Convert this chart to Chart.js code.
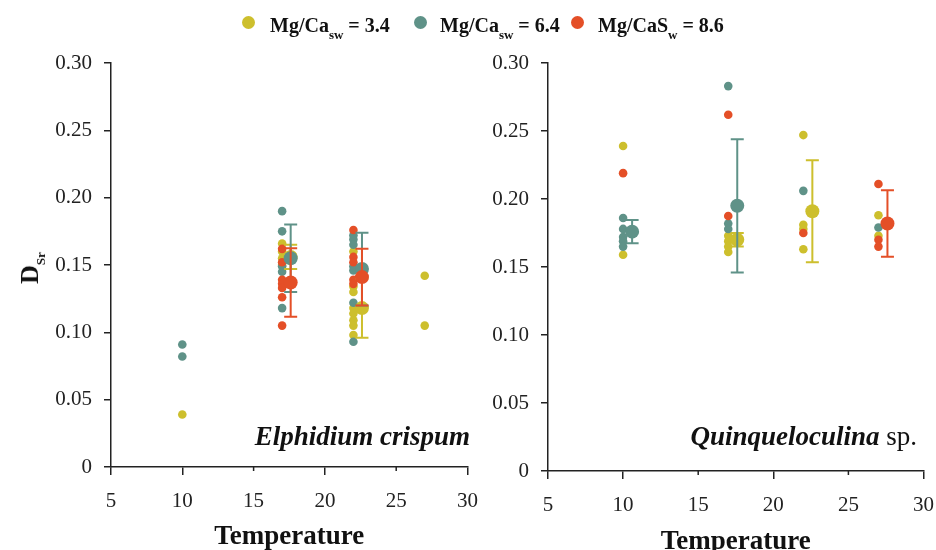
<!DOCTYPE html>
<html><head><meta charset="utf-8">
<script src="https://cdn.jsdelivr.net/npm/chart.js@4.4.1/dist/chart.umd.min.js"></script>
<style>
html,body{margin:0;padding:0;background:#fff;}
#wrap{position:relative;width:936px;height:550px;overflow:hidden;font-family:"Liberation Serif","Times New Roman",serif;color:#111;}
canvas{position:absolute;top:0;}
.leg{position:absolute;top:15px;font-weight:bold;font-size:20px;line-height:20px;white-space:nowrap;}
.dot{position:absolute;width:13px;height:13px;border-radius:50%;}
sub{font-size:13px;vertical-align:-7px;line-height:0;}
.ytitle{position:absolute;left:30px;top:268px;transform:translate(-50%,-50%) rotate(-90deg);font-weight:bold;font-size:26px;white-space:nowrap;}
.ann{position:absolute;font-size:27px;line-height:27px;white-space:nowrap;}
</style></head>
<body>
<div id="wrap">
  <canvas id="c1" width="492" height="550" style="left:0"></canvas>
  <canvas id="c2" width="468" height="550" style="left:480px"></canvas>
  <div id="legend"></div>
  <div class="ytitle">D<sub>Sr</sub></div>
  <div class="ann" style="right:466px;top:423px;"><b><i>Elphidium crispum</i></b></div>
  <div class="ann" style="right:19px;top:423px;"><b><i>Quinqueloculina</i></b> sp.</div>
</div>
<script>
// ---------- shared ----------
const xTickValues = [5, 10, 15, 20, 25, 30];
const xTickLabels = ['5', '10', '15', '20', '25', '30'];
const xMinorTicks = [15, 25];
const yTickLabels = ['0', '0.05', '0.10', '0.15', '0.20', '0.25', '0.30'];
const seriesLabels = ['Mg/Ca<sub>sw</sub> = 3.4', 'Mg/Ca<sub>sw</sub> = 6.4', 'Mg/CaS<sub>w</sub> = 8.6'];
const seriesColors = ['#cdbf2d', '#5f9288', '#e44f27'];

// ---------- Elphidium crispum : individual measurements ----------
const ecT_34 = [10, 17, 17, 17, 17, 22, 22, 22, 22, 22, 22, 22, 22, 27, 27];
const ecD_34 = [0.039, 0.166, 0.160, 0.155, 0.150, 0.160, 0.134, 0.130, 0.118, 0.114, 0.109, 0.105, 0.098, 0.142, 0.105];
const ecT_64 = [10, 10, 17, 17, 17, 17, 17, 22, 22, 22, 22, 22, 22, 22];
const ecD_64 = [0.091, 0.082, 0.190, 0.175, 0.149, 0.145, 0.118, 0.172, 0.169, 0.165, 0.149, 0.146, 0.122, 0.093];
const ecT_86 = [17, 17, 17, 17, 17, 17, 17, 22, 22, 22, 22, 22];
const ecD_86 = [0.162, 0.152, 0.139, 0.136, 0.133, 0.126, 0.105, 0.176, 0.156, 0.152, 0.139, 0.136];
// means and error
const ecMT_34 = [17.6, 22.6], ecM_34 = [0.156, 0.118], ecE_34 = [0.009, 0.022];
const ecMT_64 = [17.6, 22.6], ecM_64 = [0.155, 0.147], ecE_64 = [0.025, 0.027];
const ecMT_86 = [17.6, 22.6], ecM_86 = [0.137, 0.141], ecE_86 = [0.0255, 0.021];

// ---------- Quinqueloculina sp. : individual measurements ----------
const qT_34 = [10, 10, 17, 17, 17, 17, 22, 22, 22, 22, 27, 27];
const qD_34 = [0.239, 0.159, 0.173, 0.169, 0.165, 0.161, 0.247, 0.181, 0.178, 0.163, 0.188, 0.173];
const qT_64 = [10, 10, 10, 10, 10, 17, 17, 17, 22, 27];
const qD_64 = [0.186, 0.178, 0.172, 0.169, 0.165, 0.283, 0.182, 0.178, 0.206, 0.179];
const qT_86 = [10, 17, 17, 22, 27, 27, 27];
const qD_86 = [0.219, 0.262, 0.1875, 0.175, 0.211, 0.170, 0.165];
// means and error
const qMT_34 = [17.6, 22.6], qM_34 = [0.170, 0.191], qE_34 = [0.005, 0.0375];
const qMT_64 = [10.6, 17.6], qM_64 = [0.176, 0.195], qE_64 = [0.0085, 0.049];
const qMT_86 = [27.6], qM_86 = [0.182], qE_86 = [0.0245];

// ---------- legend (HTML text) ----------
const legPos = [[248, 270], [420, 440], [577, 598]];
const legEl = document.getElementById('legend');
seriesLabels.forEach((lab, i) => {
  const d = document.createElement('div');
  d.className = 'dot';
  d.style.left = (legPos[i][0] - 6.5) + 'px';
  d.style.top = (22 - 6.5) + 'px';
  d.style.background = seriesColors[i];
  legEl.appendChild(d);
  const t = document.createElement('div');
  t.className = 'leg';
  t.style.left = legPos[i][1] + 'px';
  t.innerHTML = lab;
  legEl.appendChild(t);
});

const pts = (T, D) => T.map((t, i) => ({x: t, y: D[i]}));

const errorBars = {
  id: 'errorBars',
  beforeDatasetDraw(chart, args) {
    const ds = chart.data.datasets[args.index];
    if (!ds.errors) return;
    const ctx = chart.ctx, xs = chart.scales.x, ys = chart.scales.y;
    ctx.save();
    ctx.strokeStyle = ds.backgroundColor;
    ctx.lineWidth = 2;
    ds.data.forEach((p, i) => {
      const e = ds.errors[i];
      const px = xs.getPixelForValue(p.x);
      const y1 = ys.getPixelForValue(p.y + e), y2 = ys.getPixelForValue(p.y - e);
      ctx.beginPath();
      ctx.moveTo(px, y1); ctx.lineTo(px, y2);
      ctx.moveTo(px - 6.5, y1); ctx.lineTo(px + 6.5, y1);
      ctx.moveTo(px - 6.5, y2); ctx.lineTo(px + 6.5, y2);
      ctx.stroke();
    });
    ctx.restore();
  }
};

// short ticks for 15 and 25 on the x axis
const minorTicks = {
  id: 'minorTicks',
  afterDraw(chart) {
    const ctx = chart.ctx, xs = chart.scales.x;
    ctx.save();
    ctx.strokeStyle = '#222';
    ctx.lineWidth = 1.5;
    xMinorTicks.forEach(v => {
      const px = xs.getPixelForValue(v);
      ctx.beginPath();
      ctx.moveTo(px, xs.top);
      ctx.lineTo(px, xs.top + 4);
      ctx.stroke();
    });
    ctx.restore();
  }
};

function makeChart(id, small, means, yAxisW, xAxisH, padRight, titleLH) {
  const datasets = [];
  [2, 1, 0].forEach(k => {
    if (!means[k]) return;
    datasets.push({
      data: pts(means[k][0], means[k][1]), errors: means[k][2],
      backgroundColor: seriesColors[k], pointRadius: 7, borderWidth: 0, pointHoverRadius: 7
    });
  });
  [2, 1, 0].forEach(k => {
    datasets.push({
      data: pts(small[k][0], small[k][1]),
      backgroundColor: seriesColors[k], pointRadius: 4.3, borderWidth: 0, pointHoverRadius: 4.3
    });
  });
  const tickFont = {family: '"Liberation Serif", serif', size: 21};
  return new Chart(document.getElementById(id), {
    type: 'scatter',
    data: {datasets},
    plugins: [errorBars, minorTicks],
    options: {
      responsive: false, animation: false, devicePixelRatio: 1,
      layout: {padding: {top: 63, right: padRight, left: 0, bottom: 0}},
      plugins: {legend: {display: false}, tooltip: {enabled: false}},
      scales: {
        x: {
          type: 'linear', min: 5, max: 30,
          afterBuildTicks: s => { s.ticks = xTickValues.map(v => ({value: v})); },
          ticks: {font: tickFont, color: '#222', padding: 14, maxRotation: 0,
                  callback: (v) => xTickLabels[xTickValues.indexOf(v)]},
          grid: {drawOnChartArea: false, drawTicks: true, tickLength: 8, lineWidth: 1.5,
                 tickColor: c => (c.tick && xMinorTicks.includes(c.tick.value)) ? 'rgba(0,0,0,0)' : '#222'},
          border: {color: '#222', width: 1.5},
          title: {display: true, text: 'Temperature', color: '#111',
                  font: {family: '"Liberation Serif", serif', size: 27, weight: 'bold', lineHeight: titleLH},
                  padding: 0},
          afterFit: s => { s.height = xAxisH; }
        },
        y: {
          min: 0, max: 0.3,
          ticks: {stepSize: 0.05, font: tickFont, color: '#222', padding: 12,
                  callback: (v, i) => yTickLabels[i]},
          grid: {drawOnChartArea: false, drawTicks: true, tickLength: 7, color: '#222', lineWidth: 1.5},
          border: {color: '#222', width: 1.5},
          afterFit: s => { s.width = yAxisW; }
        }
      }
    }
  });
}

makeChart('c1',
  [[ecT_34, ecD_34], [ecT_64, ecD_64], [ecT_86, ecD_86]],
  [[ecMT_34, ecM_34, ecE_34], [ecMT_64, ecM_64, ecE_64], [ecMT_86, ecM_86, ecE_86]],
  111, 83, 2, 0.95);
makeChart('c2',
  [[qT_34, qD_34], [qT_64, qD_64], [qT_86, qD_86]],
  [[qMT_34, qM_34, qE_34], [qMT_64, qM_64, qE_64], [qMT_86, qM_86, qE_86]],
  68, 79, 3, 0.6);
</script>
</body></html>
